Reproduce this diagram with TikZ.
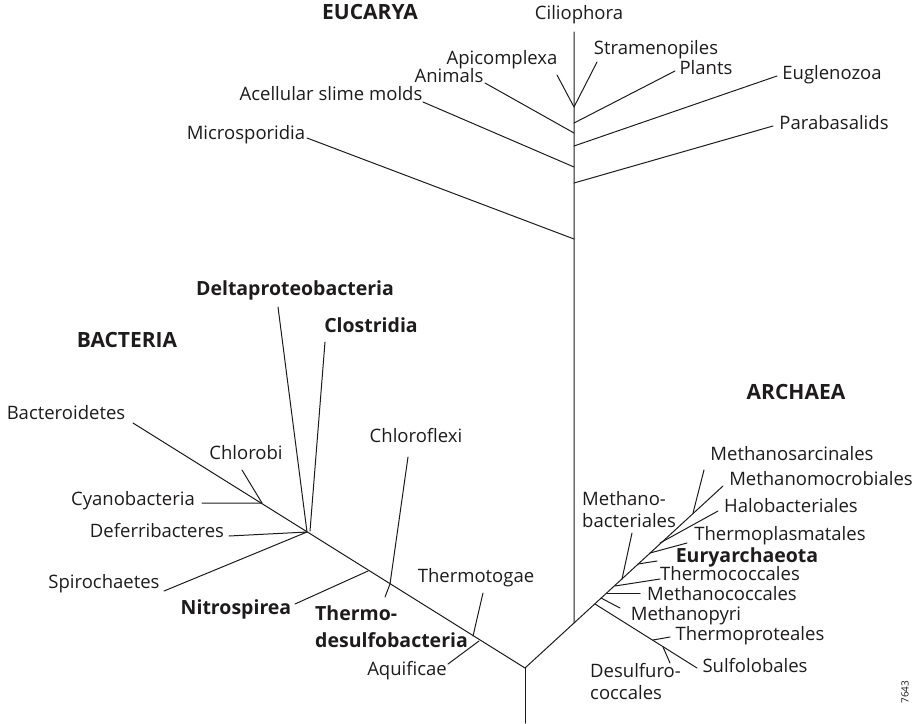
\documentclass[tikz,border=0pt]{standalone}
\usepackage{fontspec}
\setsansfont{Open Sans}
\usepackage{xcolor}
\usepackage{tikz}
\definecolor{treeink}{RGB}{30,27,28}
\tikzset{
  branch/.style={draw=treeink, line width=1pt, line cap=round, line join=round},
  taxon/.style={
    font=\fontsize{18.5}{22}\selectfont\sffamily, text=treeink,
    inner sep=0pt, text height=1.5ex, text depth=.25ex
  },
  taxonml/.style={
    font=\fontsize{18.5}{22}\selectfont\sffamily, text=treeink,
    inner sep=0pt, align=left, anchor=west
  },
  clade/.style={taxon, font=\fontsize{19.5}{23}\selectfont\sffamily\bfseries},
  clademl/.style={taxonml, font=\fontsize{19.5}{23}\selectfont\sffamily\bfseries},
  kingdom/.style={taxon, font=\fontsize{21}{24}\selectfont\sffamily\bfseries},
  tag/.style={font=\fontsize{10}{11}\selectfont\sffamily, text=treeink, rotate=90, inner sep=0pt}
}

\begin{document}
\begin{tikzpicture}[x=1pt, y=-1pt]
  \useasboundingbox (0,0) rectangle (918,723);
  % root and trunks
  \coordinate (base) at (525,723);
  \coordinate (root) at (525,668);
  \coordinate (eSplit) at (574,623);
  \coordinate (eTop) at (574,32);
  \coordinate (bEnd) at (133,423);
  \coordinate (aEnd) at (723,486);
  \draw[branch] (base) -- (root);
  \draw[branch] (root) -- (eSplit) -- (eTop);
  \draw[branch] (root) -- (bEnd);
  \draw[branch] (eSplit) -- (aEnd);

  % eucarya
  \coordinate (jCil) at (574,107);
  \coordinate (jPla) at (574,123);
  \coordinate (jAni) at (574,133);
  \coordinate (jEug) at (574,146);
  \coordinate (jAce) at (574,167);
  \coordinate (jPar) at (574,183);
  \coordinate (jMic) at (574,239);
  \coordinate (tApi) at (557,75);
  \coordinate (tStr) at (597,62);
  \coordinate (tPla) at (675,71);
  \coordinate (tAni) at (485,83);
  \coordinate (tEug) at (777,76);
  \coordinate (tAce) at (423,102);
  \coordinate (tPar) at (773,126);
  \coordinate (tMic) at (307,138);
  \draw[branch] (tApi) -- (jCil) -- (tStr);
  \draw[branch] (jPla) -- (tPla);
  \draw[branch] (jAni) -- (tAni);
  \draw[branch] (jEug) -- (tEug);
  \draw[branch] (jAce) -- (tAce);
  \draw[branch] (jPar) -- (tPar);
  \draw[branch] (jMic) -- (tMic);

  \node[kingdom] (eucarya) at (370,17) {EUCARYA};
  \node[taxon] (cil) at (579,17) {Ciliophora};
  \node[taxon] (api) at (502,62) {Apicomplexa};
  \node[taxon] (str) at (656,52) {Stramenopiles};
  \node[taxon] (pla) at (706,72) {Plants};
  \node[taxon] (ani) at (449,80) {Animals};
  \node[taxon] (eug) at (832,77) {Euglenozoa};
  \node[taxon] (ace) at (331,98) {Acellular slime molds};
  \node[taxon] (par) at (834,127) {Parabasalids};
  \node[taxon] (mic) at (246,137) {Microsporidia};

  % bacteria
  \coordinate (bChl) at (262,503);
  \coordinate (bDel) at (307,532);
  \coordinate (bCls) at (310,531);
  \coordinate (bNit) at (368,571);
  \coordinate (bChf) at (390,584);
  \coordinate (bTtg) at (473,636);
  \coordinate (bAqu) at (479,641);
  \coordinate (tChl) at (242,470);
  \coordinate (tCya) at (202,503);
  \coordinate (tDel) at (278,307);
  \coordinate (tCls) at (325,342);
  \coordinate (tDef) at (229,536);
  \coordinate (tSpi) at (164,591);
  \coordinate (tNit) at (295,604);
  \coordinate (tChf) at (408,457);
  \coordinate (tTds) at (385,597);
  \coordinate (tTtg) at (483,593);
  \coordinate (tAqu) at (448,664);
  \draw[branch] (tChl) -- (bChl) -- (tCya);
  \draw[branch] (tDel) -- (bDel);
  \draw[branch] (tCls) -- (bCls);
  \draw[branch] (tDef) -- (bDel) -- (tSpi);
  \draw[branch] (bNit) -- (tNit);
  \draw[branch] (tChf) -- (bChf) -- (tTds);
  \draw[branch] (tTtg) -- (bTtg);
  \draw[branch] (bAqu) -- (tAqu);

  \node[kingdom] (bacteria) at (127,345) {BACTERIA};
  \node[taxon] (bac) at (66,417) {Bacteroidetes};
  \node[taxon] (chl) at (246,457) {Chlorobi};
  \node[taxon] (cya) at (133,503) {Cyanobacteria};
  \node[taxon] (def) at (157,535) {Deferribacteres};
  \node[taxon] (spi) at (104,586) {Spirochaetes};
  \node[clade] (del) at (295,293) {Deltaproteobacteria};
  \node[clade] (cls) at (371,330) {Clostridia};
  \node[taxon] (chf) at (416,440) {Chloroflexi};
  \node[clade] (nit) at (236,612) {Nitrospirea};
  \node[clademl] (tds) at (315,627) {Thermo-\\[4pt]desulfobacteria};
  \node[taxon] (ttg) at (476,580) {Thermotogae};
  \node[taxon] (aqu) at (407,673) {Aquificae};

  % archaea
  \coordinate (aCren) at (595,604);
  \coordinate (aMpy) at (601,598);
  \coordinate (aMcc) at (607,593);
  \coordinate (aTcc) at (615,586);
  \coordinate (aMba) at (622,579);
  \coordinate (aEur) at (638,564);
  \coordinate (aTpl) at (650,553);
  \coordinate (aHal) at (660,543);
  \coordinate (aMsa) at (693,513);
  \coordinate (aTpr) at (653,640);
  \coordinate (aDes) at (663,647);
  \coordinate (tSul) at (697,668);
  \coordinate (tTpr) at (670,637);
  \coordinate (tDes) at (670,663);
  \coordinate (tMpy) at (620,608);
  \coordinate (tMcc) at (640,593);
  \coordinate (tTcc) at (660,579);
  \coordinate (tMba) at (632,533);
  \coordinate (tEur) at (657,561);
  \coordinate (tTpl) at (687,543);
  \coordinate (tHal) at (718,511);
  \coordinate (tMsa) at (704,470);
  \draw[branch] (aCren) -- (tSul);
  \draw[branch] (aTpr) -- (tTpr);
  \draw[branch] (aDes) -- (tDes);
  \draw[branch] (aMpy) -- (tMpy);
  \draw[branch] (aMcc) -- (tMcc);
  \draw[branch] (aTcc) -- (tTcc);
  \draw[branch] (aMba) -- (tMba);
  \draw[branch] (aEur) -- (tEur);
  \draw[branch] (aTpl) -- (tTpl);
  \draw[branch] (aHal) -- (tHal);
  \draw[branch] (aMsa) -- (tMsa);

  \node[kingdom] (archaea) at (796,397) {ARCHAEA};
  \node[taxon] (msa) at (792,458) {Methanosarcinales};
  \node[taxon] (mmi) at (821,483) {Methanomocrobiales};
  \node[taxon] (hal) at (791,510) {Halobacteriales};
  \node[taxon] (tpl) at (780,538) {Thermoplasmatales};
  \node[clade] (eur) at (747,560) {Euryarchaeota};
  \node[taxon] (tcc) at (730,578) {Thermococcales};
  \node[taxon] (mcc) at (722,598) {Methanococcales};
  \node[taxon] (mpy) at (686,618) {Methanopyri};
  \node[taxon] (tpr) at (750,638) {Thermoproteales};
  \node[taxon] (sul) at (755,670) {Sulfolobales};
  \node[taxonml] (des) at (590,682) {Desulfuro-\\coccales};
  \node[taxonml] (mba) at (582,510) {Methano-\\bacteriales};
  \node[tag] (fig) at (905,692) {7643};
\end{tikzpicture}
\end{document}
